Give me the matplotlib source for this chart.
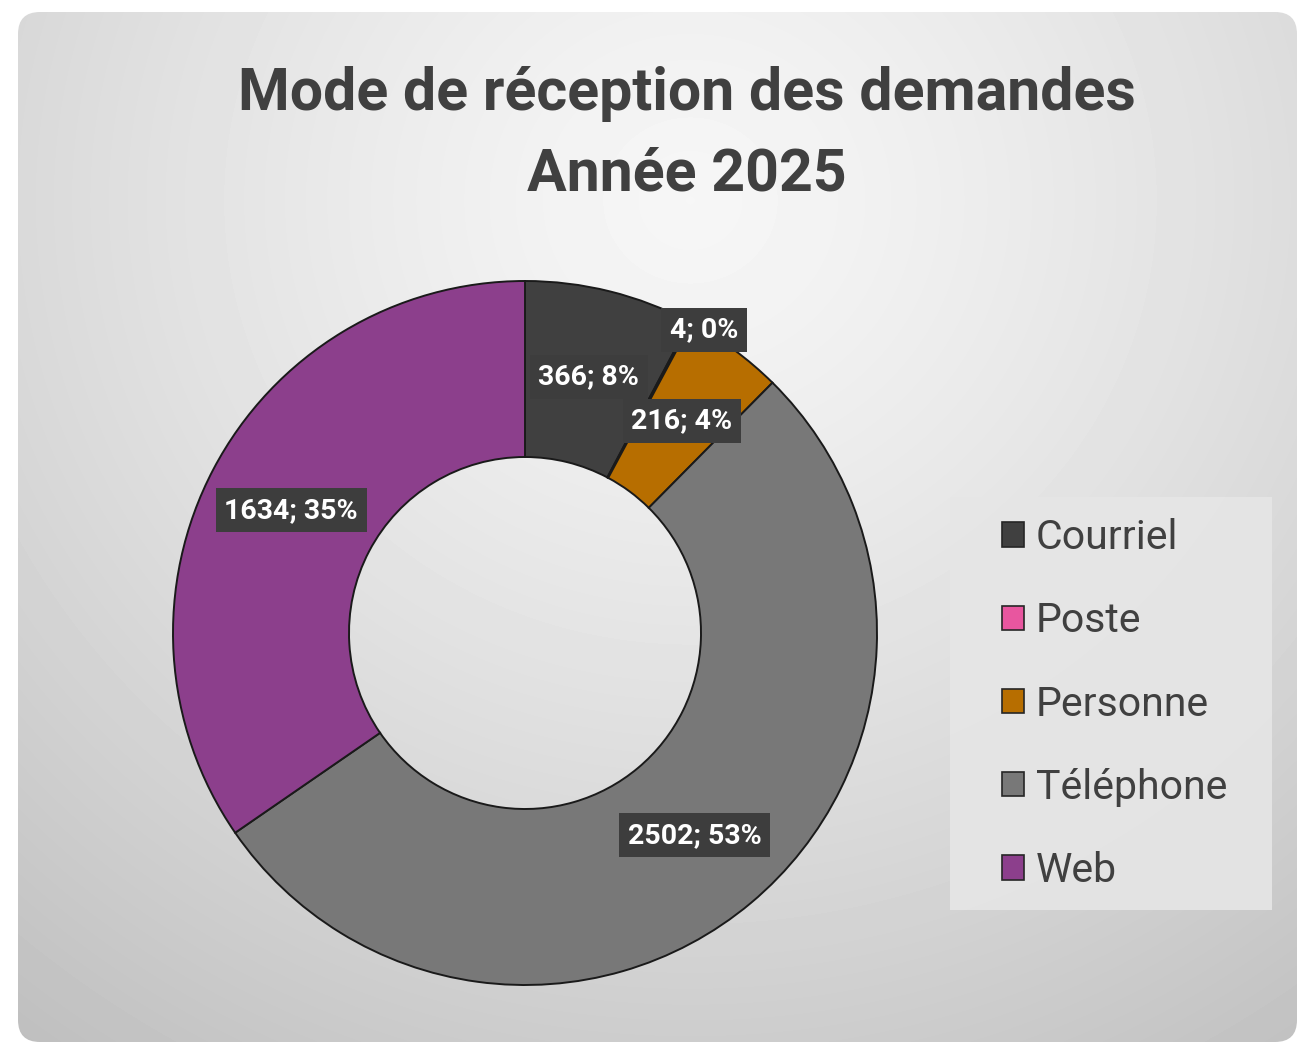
import numpy as np
import matplotlib
matplotlib.use("Agg")
import matplotlib.pyplot as plt
from matplotlib.patches import FancyBboxPatch, Patch, Rectangle

# ==================================================
# Data
# ==================================================
categories = ["Courriel", "Poste", "Personne", "Téléphone", "Web"]
counts = [366, 4, 216, 2502, 1634]
pct_labels = ["8%", "0%", "4%", "53%", "35%"]
colors = ["#404040", "#e8569f", "#b76e00", "#787878", "#8c3f8c"]

title_text = "Mode de réception des demandes\nAnnée 2025"

plt.rcParams["font.family"] = ["Roboto", "DejaVu Sans"]

W, H = 1299, 1045
fig = plt.figure(figsize=(W / 100, H / 100), dpi=100)
fig.patch.set_facecolor("white")

# ==================================================
# Background panel with radial gradient
# ==================================================
bg = fig.add_axes([0, 0, 1, 1])
bg.set_xlim(0, W)
bg.set_ylim(H, 0)
bg.axis("off")

yy, xx = np.mgrid[0:H, 0:W]
dist = np.hypot(xx - 690, (yy - 200) * 1.05)
shade = 0.965 - 0.19 * np.clip(dist / 1000, 0, 1.1) ** 1.3
img = bg.imshow(shade, cmap="gray", vmin=0, vmax=1, extent=(0, W, H, 0),
                interpolation="bilinear", zorder=0)
panel = FancyBboxPatch((18, 12), 1279, 1030,
                       boxstyle="round,pad=0,rounding_size=22",
                       transform=bg.transData, facecolor="none", edgecolor="none")
bg.add_patch(panel)
img.set_clip_path(panel)

# legend background box
bg.add_patch(Rectangle((950, 497), 322, 413, facecolor="#e6e6e6",
                       edgecolor="none", alpha=0.9, zorder=1))

fig.text(0.529, 1 - 134 / H, title_text, ha="center", va="center",
         fontsize=42.5, fontweight="bold", color="#404040", linespacing=1.55)

# ==================================================
# Donut
# ==================================================
cx, cy, R = 525, 633, 352
ax = fig.add_axes([(cx - R) / W, (H - cy - R) / H, 2 * R / W, 2 * R / H])

wedges, _ = ax.pie(
    counts,
    colors=colors,
    startangle=90,
    counterclock=False,
    radius=1.0,
    wedgeprops=dict(width=0.5, edgecolor="#1a1a1a", linewidth=1.4),
)
ax.set_xlim(-1, 1)
ax.set_ylim(-1, 1)
ax.set_aspect("equal")
ax.axis("off")

label_radius = [0.75, 1.0, 0.75, 0.75, 0.75]
label_shift = [0, -2.5, 0, 0, 0]
for w, cnt, pct, r, sh in zip(wedges, counts, pct_labels, label_radius, label_shift):
    ang = np.deg2rad((w.theta1 + w.theta2) / 2 + sh)
    x, y = r * np.cos(ang), r * np.sin(ang)
    ax.text(x, y, f"{cnt}; {pct}", ha="center", va="center",
            fontsize=20.5, fontweight="bold", color="white", zorder=5,
            bbox=dict(boxstyle="square,pad=0.3", facecolor="#3d3d3d",
                      edgecolor="none"))

# ==================================================
# Legend
# ==================================================
handles = [Patch(facecolor=c, edgecolor="#262626", linewidth=1.2) for c in colors]
leg = fig.legend(
    handles, categories,
    loc="center left", bbox_to_anchor=(1002 / W, 1 - 704 / H),
    fontsize=29.5, frameon=False,
    handlelength=0.54, handleheight=0.54, handletextpad=0.28,
    labelspacing=1.08, borderpad=0, borderaxespad=0,
)
for t in leg.get_texts():
    t.set_color("#404040")

fig.savefig("out.png", dpi=100, facecolor="white")
